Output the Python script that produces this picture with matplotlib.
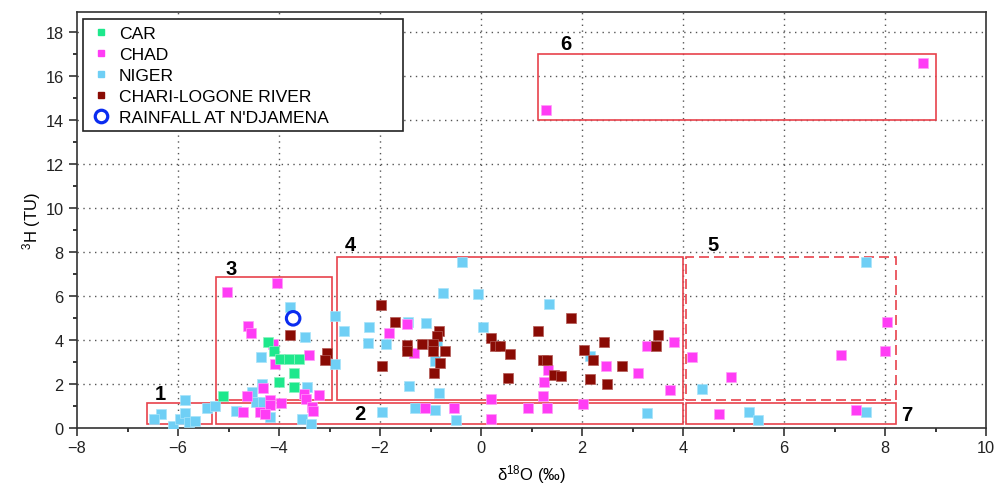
import matplotlib
matplotlib.use("Agg")
import matplotlib.pyplot as plt
from matplotlib.patches import Rectangle
from matplotlib.lines import Line2D
from matplotlib.ticker import MultipleLocator

plt.rcParams['font.family'] = ['Liberation Sans', 'DejaVu Sans']
plt.rcParams['mathtext.fontset'] = 'custom'
plt.rcParams['mathtext.rm'] = 'Liberation Sans'
plt.rcParams['mathtext.default'] = 'regular'

# ---------------- data ----------------
car_x = [-4.21, -4.10, -3.99, -3.80, -3.60, -3.70, -4.00, -3.70, -5.10]
car_y = [3.93, 3.50, 3.14, 3.14, 3.14, 2.50, 2.11, 1.85, 1.44]

chad_x = [-4.03, -5.02, -4.61, -4.56, -4.12, -3.40, -4.08, -4.31, -4.64, -4.18, -3.96,
          -4.17, -3.50, -3.46, -3.20, -3.35, -3.33, -4.71, -4.38, -4.27,
          -1.47, -1.82, -1.33, 1.33, 1.25, 1.23, 0.20, 2.48, 3.11, 3.29, 3.82, 3.74, 2.01,
          -1.11, -0.53, 0.20, 0.93, 1.31,
          4.18, 4.96, 7.13, 8.00, 8.04, 4.72, 7.42, 1.29, 8.75]
chad_y = [6.60, 6.20, 4.63, 4.32, 3.81, 3.32, 2.93, 1.82, 1.44, 1.27, 1.12,
          1.06, 1.53, 1.32, 1.52, 0.94, 0.79, 0.71, 0.74, 0.64,
          4.72, 4.31, 3.43, 2.62, 2.11, 1.44, 1.32, 2.82, 2.52, 3.72, 3.90, 1.73, 1.11,
          0.92, 0.92, 0.43, 0.92, 0.92,
          3.22, 2.32, 3.32, 3.50, 4.81, 0.62, 0.82, 14.48, 16.59]

niger_x = [-5.86, -6.34, -6.47, -6.10, -5.97, -5.86, -5.78, -5.66, -5.42, -5.26,
           -3.78, -3.48, -4.35, -4.34, -3.45, -4.53, -4.46, -4.32, -4.85, -4.17, -3.54, -3.37,
           -2.89, -2.71, -2.89, -0.37, -0.75, -0.05, 1.35, -1.45, -1.08, -2.21, 0.03,
           -2.23, -1.89, -0.87, -0.92, -1.42, -0.84, 2.16,
           -1.96, -1.30, -0.91, -0.50, 3.28,
           7.62, 4.37, 5.31, 5.49, 7.62]
niger_y = [1.27, 0.62, 0.41, 0.08, 0.41, 0.68, 0.26, 0.33, 0.90, 0.99,
           5.52, 4.14, 3.22, 2.00, 1.88, 1.62, 1.17, 1.17, 0.79, 0.49, 0.41, 0.17,
           5.11, 4.42, 2.93, 7.57, 6.14, 6.10, 5.64, 4.84, 4.78, 4.61, 4.58,
           3.87, 3.82, 3.97, 3.05, 1.90, 1.59, 3.26,
           0.74, 0.92, 0.80, 0.38, 0.68,
           7.54, 1.76, 0.73, 0.38, 0.74]

river_x = [-3.78, -3.04, -3.09, -1.99, 1.78, -1.70, -0.83, -0.88, 1.12, 0.20, 0.28, 0.38,
           0.57, -1.47, -1.47, -1.17, -0.96, -0.96, -0.72, -0.81, -1.97, -0.94, 1.23, 1.31,
           1.45, 1.58, 0.53, 2.04, 2.22, 2.44, 2.80, 2.16, 2.50, 3.51, 3.46]
river_y = [4.25, 3.41, 3.11, 5.61, 5.00, 4.82, 4.41, 4.20, 4.40, 4.08, 3.72, 3.72,
           3.35, 3.78, 3.52, 3.81, 3.81, 3.52, 3.52, 2.94, 2.83, 2.50, 3.08, 3.11,
           2.43, 2.38, 2.26, 3.56, 3.11, 3.91, 2.82, 2.23, 2.02, 4.23, 3.72]

rain_x = [-3.72]
rain_y = [4.99]

# group boxes
box_labels = ['1', '2', '3', '4', '5', '6', '7']
box_x0 = [-6.61, -5.25, -5.25, -2.86, 4.05, 1.12, 4.05]
box_x1 = [-5.33, 4.00, -2.96, 4.00, 8.22, 9.00, 8.22]
box_y0 = [0.16, 0.18, 1.28, 1.27, 1.29, 14.01, 0.18]
box_y1 = [1.12, 1.14, 6.86, 7.77, 7.77, 17.00, 1.14]
box_dashed = [False, False, False, False, True, False, False]
label_x = [-6.36, -2.40, -4.95, -2.59, 4.59, 1.68, 8.44]
label_y = [1.58, 0.64, 7.25, 8.37, 8.37, 17.5, 0.61]

# ---------------- figure ----------------
W, H = 995, 485
fig = plt.figure(figsize=(W / 100, H / 100), dpi=100)
ax_l, ax_r, ax_t, ax_b = 77, 986, 12.7, 429
ax = fig.add_axes([ax_l / W, 1 - ax_b / H, (ax_r - ax_l) / W, (ax_b - ax_t) / H])

ax.set_xlim(-8, 10)
ax.set_ylim(0, 18.94)

ax.xaxis.set_major_locator(MultipleLocator(2))
ax.xaxis.set_minor_locator(MultipleLocator(1))
ax.yaxis.set_major_locator(MultipleLocator(2))
ax.yaxis.set_minor_locator(MultipleLocator(1))
ax.tick_params(which='major', direction='out', length=6, width=1.1, labelsize=11.8, colors='#222222')
ax.tick_params(which='minor', direction='out', length=3, width=1.1)
ax.tick_params(axis='x', which='major', pad=3)

for s in ax.spines.values():
    s.set_linewidth(1.2)
    s.set_color('#333333')

for gx in range(-6, 10, 2):
    ax.axvline(gx, color='#555555', lw=1.0, ls=(0, (1, 3.2)), zorder=0)
for gy in range(2, 19, 2):
    ax.axhline(gy, color='#555555', lw=1.0, ls=(0, (1, 3.2)), zorder=0)

box_color = '#e8424c'
for lab, x0, x1, y0, y1, d, lx, ly in zip(box_labels, box_x0, box_x1, box_y0, box_y1,
                                          box_dashed, label_x, label_y):
    ax.add_patch(Rectangle((x0, y0), x1 - x0, y1 - y0, fill=False, edgecolor=box_color,
                           lw=1.2, ls=(0, (6, 3)) if d else '-', zorder=1))
    ax.text(lx, ly, lab, fontsize=14.5, fontweight='bold', ha='center', va='center', zorder=5)

msize = 46
c_car = '#1ee88c'
c_chad = '#ff3cf5'
c_niger = '#6fcff5'
c_river = '#8a0b04'
c_rain = '#0a2cf0'

ax.scatter(niger_x, niger_y, marker='s', s=msize, color=c_niger, edgecolors='#a8e4fa', linewidths=0.5, zorder=3)
ax.scatter(chad_x, chad_y, marker='s', s=msize, color=c_chad, edgecolors='#ff9cf8', linewidths=0.5, zorder=3)
ax.scatter(car_x, car_y, marker='s', s=msize, color=c_car, edgecolors='#8df2c0', linewidths=0.5, zorder=3)
ax.scatter(river_x, river_y, marker='s', s=msize, color=c_river, edgecolors='#b35a55', linewidths=0.5, zorder=3)
ax.scatter(rain_x, rain_y, marker='o', s=95, facecolors='none', edgecolors=c_rain, linewidths=2.2, zorder=4)

ax.set_xlabel(r'δ$^{18}$O (‰)', fontsize=12, labelpad=5)
ax.set_ylabel(r'$^{3}$H (TU)', fontsize=12, labelpad=2)

def axfrac(px, py):
    return (px - ax_l) / (ax_r - ax_l), (ax_b - py) / (ax_b - ax_t)

fx0, fy0 = axfrac(82.7, 131.7)
fx1, fy1 = axfrac(403.3, 20)
ax.add_patch(Rectangle((fx0, fy0), fx1 - fx0, fy1 - fy0, transform=ax.transAxes,
                       facecolor='white', edgecolor='#222222', lw=1.2, zorder=9))

handles = [
    Line2D([], [], marker='s', ls='none', color=c_car, markersize=5),
    Line2D([], [], marker='s', ls='none', color=c_chad, markersize=5),
    Line2D([], [], marker='s', ls='none', color=c_niger, markersize=5),
    Line2D([], [], marker='s', ls='none', color=c_river, markersize=5),
    Line2D([], [], marker='o', ls='none', markerfacecolor='none', markeredgecolor=c_rain,
           markeredgewidth=2.3, markersize=9),
]
labels = ['CAR', 'CHAD', 'NIGER', 'CHARI-LOGONE RIVER', "RAINFALL AT N'DJAMENA"]
lx0, ly0 = axfrac(92, 27)
leg = ax.legend(handles, labels, loc='upper left', bbox_to_anchor=(lx0, ly0),
                borderaxespad=0, fontsize=12.6, frameon=False,
                labelspacing=0.32, handlelength=1.0, handletextpad=0.55, borderpad=0.0)
leg.set_zorder(10)

fig.savefig('out.png', dpi=100)
